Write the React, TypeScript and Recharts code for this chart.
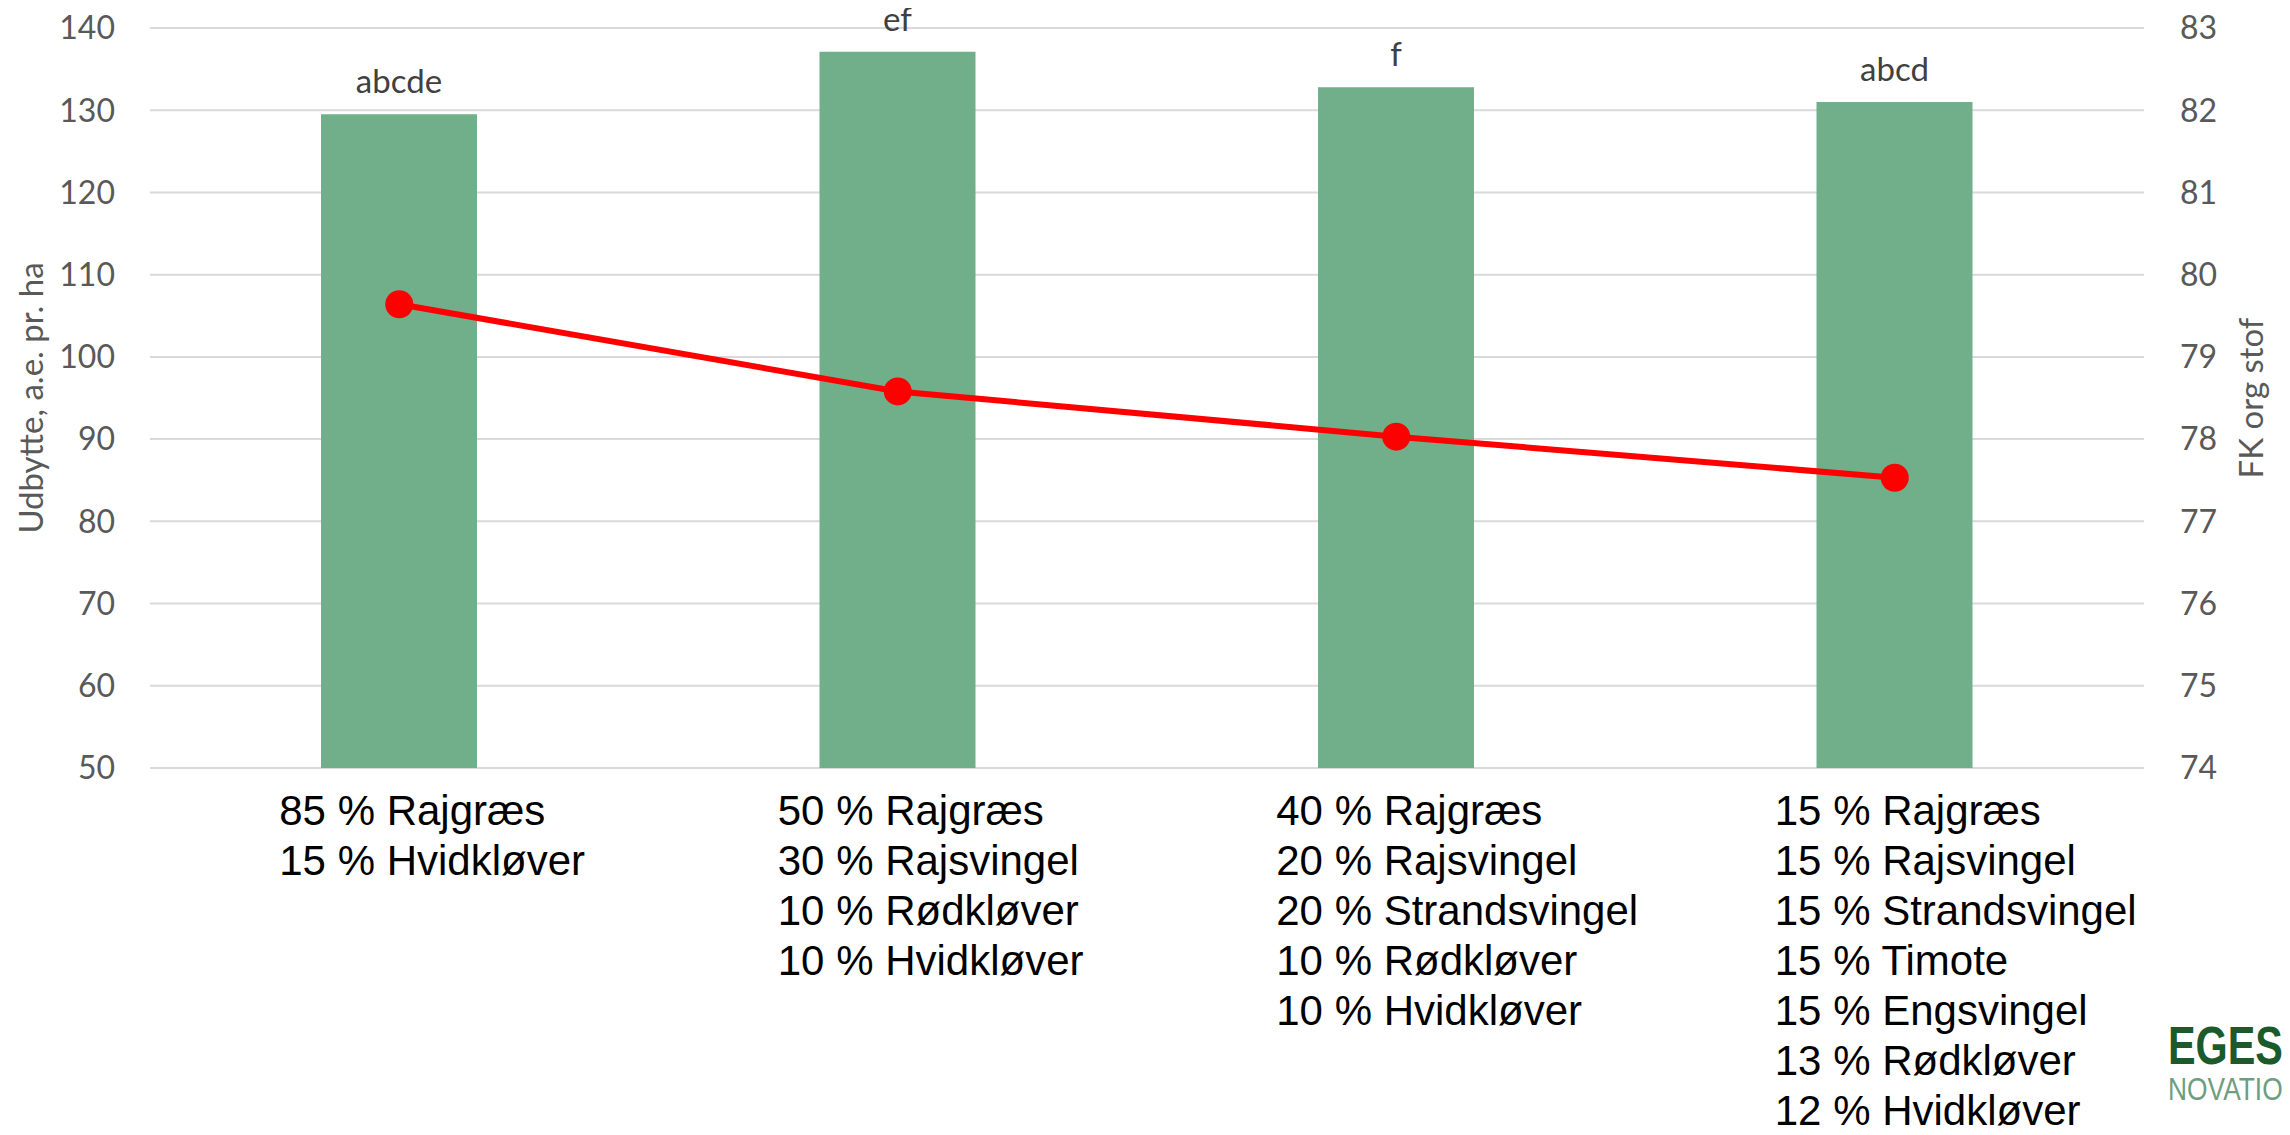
import React from 'react';
import { ComposedChart, Bar, Line, XAxis, YAxis, CartesianGrid, LabelList } from 'recharts';

// seed mixtures (one line per species)
const mixtures = [
  '85 % Rajgræs\n15 % Hvidkløver',
  '50 % Rajgræs\n30 % Rajsvingel\n10 % Rødkløver\n10 % Hvidkløver',
  '40 % Rajgræs\n20 % Rajsvingel\n20 % Strandsvingel\n10 % Rødkløver\n10 % Hvidkløver',
  '15 % Rajgræs\n15 % Rajsvingel\n15 % Strandsvingel\n15 % Timote\n15 % Engsvingel\n13 % Rødkløver\n12 % Hvidkløver',
];
const udbytte = [129.5, 137.1, 132.8, 131.0];
const fkOrgStof = [79.64, 78.58, 78.03, 77.53];
const letters = ['abcde', 'ef', 'f', 'abcd'];

const leftTicks = [50, 60, 70, 80, 90, 100, 110, 120, 130, 140];
const rightTicks = [74, 75, 76, 77, 78, 79, 80, 81, 82, 83];

const data = mixtures.map((name, i) => ({
  name,
  udbytte: udbytte[i],
  fk: fkOrgStof[i],
  letters: letters[i],
}));

const calibri = "Lato, 'Open Sans', sans-serif";
const arial = "'Liberation Sans', Arial, sans-serif";

const MixTick = (props: any) => {
  const { x, y, payload } = props;
  const lines = String(payload.value).split('\n');
  const left = x - 120;
  return (
    <text x={left} y={y - 1} textAnchor="start" fill="#000000" fontSize={42} fontFamily={arial}>
      {lines.map((l, i) => (
        <tspan key={i} x={left} dy={50}>
          {l}
        </tspan>
      ))}
    </text>
  );
};

const App: React.FC = () => {
  return (
    <div style={{ position: 'relative', width: 2290, height: 1135, margin: -8, overflow: 'hidden', background: '#fff' }}>
      <ComposedChart
        width={2290}
        height={1135}
        data={data}
        margin={{ top: 28, right: 46, bottom: 17, left: 50 }}
      >
        <CartesianGrid vertical={false} stroke="#d9d9d9" strokeWidth={2} yAxisId="left" />
        <XAxis
          dataKey="name"
          height={350}
          axisLine={false}
          tickLine={false}
          interval={0}
          tick={<MixTick />}
        />
        <YAxis
          yAxisId="left"
          width={100}
          domain={[50, 140]}
          ticks={leftTicks}
          axisLine={false}
          tickLine={false}
          tickMargin={29}
          tick={{ fill: '#595959', fontSize: 32, fontFamily: calibri }}
        />
        <YAxis
          yAxisId="right"
          orientation="right"
          width={100}
          domain={[74, 83]}
          ticks={rightTicks}
          axisLine={false}
          tickLine={false}
          tickMargin={30}
          tick={{ fill: '#595959', fontSize: 32, fontFamily: calibri }}
        />
        <Bar yAxisId="left" dataKey="udbytte" fill="#71ae8a" barSize={156} isAnimationActive={false}>
          <LabelList
            dataKey="letters"
            position="top"
            offset={21}
            fill="#404040"
            fontSize={33}
            fontFamily={calibri}
          />
        </Bar>
        <Line
          yAxisId="right"
          type="linear"
          dataKey="fk"
          stroke="#ff0000"
          strokeWidth={6}
          dot={{ r: 14, fill: '#ff0000', stroke: '#ff0000', strokeWidth: 0 }}
          activeDot={false}
          isAnimationActive={false}
        />
      </ComposedChart>

      <div
        style={{
          position: 'absolute',
          left: 30,
          top: 398,
          transform: 'translate(-50%, -50%) rotate(-90deg)',
          whiteSpace: 'nowrap',
          fontFamily: calibri,
          fontSize: 33,
          color: '#595959',
        }}
      >
        Udbytte, a.e. pr. ha
      </div>
      <div
        style={{
          position: 'absolute',
          left: 2250,
          top: 398,
          transform: 'translate(-50%, -50%) rotate(-90deg)',
          whiteSpace: 'nowrap',
          fontFamily: calibri,
          fontSize: 33,
          color: '#595959',
        }}
      >
        FK org stof
      </div>

      {/* logo, cut off at the right edge */}
      <div
        style={{
          position: 'absolute',
          left: 2168,
          top: 1019,
          fontFamily: "'Liberation Sans Narrow', 'Liberation Sans', sans-serif",
          fontWeight: 'bold',
          fontSize: 53,
          lineHeight: 1,
          color: '#1b5a2b',
          whiteSpace: 'nowrap',
          transform: 'scaleX(0.78)',
          transformOrigin: 'left top',
        }}
      >
        EGES
      </div>
      <div
        style={{
          position: 'absolute',
          left: 2168,
          top: 1074,
          fontFamily: "'Liberation Sans Narrow', 'Liberation Sans', sans-serif",
          fontSize: 31,
          lineHeight: 1,
          color: '#6e9d7f',
          whiteSpace: 'nowrap',
          transform: 'scaleX(0.85)',
          transformOrigin: 'left top',
        }}
      >
        NOVATIO
      </div>
    </div>
  );
};

export default App;
